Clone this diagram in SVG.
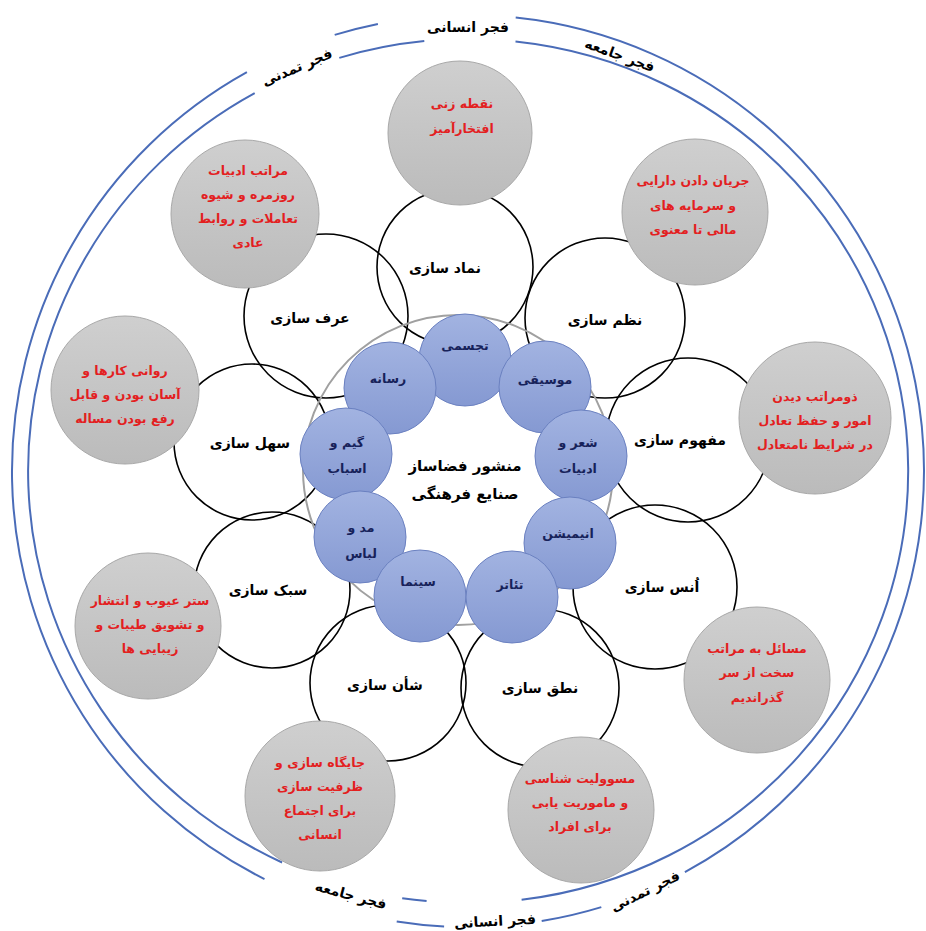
<svg xmlns="http://www.w3.org/2000/svg" width="926" height="931" viewBox="0 0 926 931">
<defs>
<linearGradient id="gGray" x1="0" y1="0" x2="0" y2="1">
<stop offset="0" stop-color="#cfcfcf"/>
<stop offset="1" stop-color="#bbbbbb"/>
</linearGradient>
<linearGradient id="gBlue" x1="0" y1="0" x2="0" y2="1">
<stop offset="0" stop-color="#a2b3e1"/>
<stop offset="1" stop-color="#8599d2"/>
</linearGradient>
<style>
text{font-family:"DejaVu Sans","Noto Sans",sans-serif;font-weight:bold;text-anchor:middle;dominant-baseline:central}
.ring{fill:none;stroke:#4a6cb8;stroke-width:2}
.wc{fill:none;stroke:#000;stroke-width:1.6}
.gc{fill:url(#gGray);stroke:#a8a8a8;stroke-width:1}
.bc{fill:url(#gBlue);stroke:#6a80c0;stroke-width:1}
.lab{font-size:14px;fill:#000}
.red{font-size:12.5px;fill:#e3201f}
.nav{font-size:12.5px;fill:#17225a}
.fajr{font-size:14px;fill:#000}
.ctr{font-size:15px;fill:#000}
</style>
</defs>
<rect width="926" height="931" fill="#fff"/>
<g id="connectors">
<path class="ring" d="M515.7,17.5 A456,456 0 0 1 684.9,872.1"/>
<path class="ring" d="M601.3,907.1 A456,456 0 0 1 541.7,921.0"/>
<path class="ring" d="M444.1,926.4 A456,456 0 0 1 396.7,921.4"/>
<path class="ring" d="M264.5,879.1 A456,456 0 0 1 246.9,72.2"/>
<path class="ring" d="M334.7,34.9 A456,456 0 0 1 377.9,24.0"/>
<path class="ring" d="M515.5,41.5 A440,432 0 0 1 521.6,899.8"/>
<path class="ring" d="M426.6,901.1 A440,432 0 0 1 402.2,898.2"/>
<path class="ring" d="M282.1,862.5 A440,432 0 0 1 254.7,93.2"/>
<path class="ring" d="M339.3,57.9 A440,432 0 0 1 424.3,41.1"/>
</g>
<g id="ring-labels">
<text class="fajr" x="468" y="27">فجر انسانی</text>
<text class="fajr" x="620" y="55" transform="rotate(20 620 55)">فجر جامعه</text>
<text class="fajr" x="297" y="67" transform="rotate(-23 297 67)">فجر تمدنی</text>
<text class="fajr" x="495" y="921" transform="rotate(-3 495 921)">فجر انسانی</text>
<text class="fajr" x="351" y="895" transform="rotate(15 351 895)">فجر جامعه</text>
<text class="fajr" x="645" y="891" transform="rotate(-26 645 891)">فجر تمدنی</text>
</g>
<g id="white-circles">
<circle class="wc" cx="455" cy="267" r="78"/>
<circle class="wc" cx="605" cy="318" r="80"/>
<circle class="wc" cx="688" cy="440" r="82"/>
<circle class="wc" cx="655" cy="587" r="82"/>
<circle class="wc" cx="540" cy="688" r="79"/>
<circle class="wc" cx="388" cy="683" r="78"/>
<circle class="wc" cx="272" cy="590" r="78"/>
<circle class="wc" cx="252" cy="442" r="78"/>
<circle class="wc" cx="326" cy="316" r="82"/>
</g>
<g id="core-ring">
<circle cx="458" cy="470" r="155" fill="none" stroke="#a0a0a0" stroke-width="2"/>
</g>
<g id="node-symbol"><text class="lab" x="445" y="268">نماد سازی</text></g>
<g id="node-order"><text class="lab" x="605" y="320">نظم سازی</text></g>
<g id="node-concept"><text class="lab" x="680" y="440">مفهوم سازی</text></g>
<g id="node-uns"><text class="lab" x="662" y="587">اُنس سازی</text></g>
<g id="node-speech"><text class="lab" x="540" y="688">نطق سازی</text></g>
<g id="node-status"><text class="lab" x="385" y="685">شأن سازی</text></g>
<g id="node-style"><text class="lab" x="268" y="590">سبک سازی</text></g>
<g id="node-ease"><text class="lab" x="250" y="443">سهل سازی</text></g>
<g id="node-custom"><text class="lab" x="310" y="318">عرف سازی</text></g>

<g id="g-top"><circle class="gc" cx="460" cy="133" r="72"/>
<text class="red" x="462" y="103">نقطه زنی</text><text class="red" x="462" y="128">افتخارآمیز</text></g>
<g id="g-topright"><circle class="gc" cx="695" cy="212" r="73"/>
<text class="red" x="693" y="180">جریان دادن دارایی</text><text class="red" x="693" y="205">و سرمایه های</text><text class="red" x="693" y="229">مالی تا معنوی</text></g>
<g id="g-right"><circle class="gc" cx="815" cy="418" r="76"/>
<text class="red" x="815" y="396">ذومراتب دیدن</text><text class="red" x="815" y="420">امور و حفظ تعادل</text><text class="red" x="815" y="444">در شرایط نامتعادل</text></g>
<g id="g-bottomright"><circle class="gc" cx="757" cy="680" r="73"/>
<text class="red" x="757" y="648">مسائل به مراتب</text><text class="red" x="757" y="672">سخت از سر</text><text class="red" x="757" y="697">گذراندیم</text></g>
<g id="g-bottom"><circle class="gc" cx="581" cy="810" r="73"/>
<text class="red" x="580" y="778">مسوولیت شناسی</text><text class="red" x="580" y="802">و ماموریت یابی</text><text class="red" x="580" y="826">برای افراد</text></g>
<g id="g-bottomleft"><circle class="gc" cx="320" cy="796" r="75"/>
<text class="red" x="320" y="762">جایگاه سازی و</text><text class="red" x="320" y="786">ظرفیت سازی</text><text class="red" x="320" y="810">برای اجتماع</text><text class="red" x="320" y="834">انسانی</text></g>
<g id="g-leftbottom"><circle class="gc" cx="148" cy="626" r="73"/>
<text class="red" x="150" y="600">ستر عیوب و انتشار</text><text class="red" x="150" y="624">و تشویق طیبات و</text><text class="red" x="150" y="648">زیبایی ها</text></g>
<g id="g-left"><circle class="gc" cx="125" cy="390" r="74"/>
<text class="red" x="125" y="370">روانی کارها و</text><text class="red" x="125" y="394">آسان بودن و قابل</text><text class="red" x="125" y="418">رفع بودن مساله</text></g>
<g id="g-topleft"><circle class="gc" cx="245" cy="214" r="74"/>
<text class="red" x="248" y="170">مراتب ادبیات</text><text class="red" x="248" y="194">روزمره و شیوه</text><text class="red" x="248" y="218">تعاملات و روابط</text><text class="red" x="248" y="242">عادی</text></g>

<g id="b-sculpt"><circle class="bc" cx="465" cy="360" r="46"/><text class="nav" x="465" y="345">تجسمی</text></g>
<g id="b-media"><circle class="bc" cx="390" cy="388" r="46"/><text class="nav" x="388" y="378">رسانه</text></g>
<g id="b-music"><circle class="bc" cx="545" cy="387" r="46"/><text class="nav" x="545" y="379">موسیقی</text></g>
<g id="b-game"><circle class="bc" cx="346" cy="454" r="46"/><text class="nav" x="347" y="442">گیم و</text><text class="nav" x="347" y="468">اسباب</text></g>
<g id="b-poetry"><circle class="bc" cx="581" cy="456" r="46"/><text class="nav" x="578" y="442">شعر و</text><text class="nav" x="578" y="468">ادبیات</text></g>
<g id="b-fashion"><circle class="bc" cx="360" cy="537" r="46"/><text class="nav" x="361" y="527">مد و</text><text class="nav" x="361" y="553">لباس</text></g>
<g id="b-anim"><circle class="bc" cx="570" cy="543" r="46"/><text class="nav" x="568" y="533">انیمیشن</text></g>
<g id="b-cinema"><circle class="bc" cx="420" cy="596" r="46"/><text class="nav" x="418" y="581">سینما</text></g>
<g id="b-theater"><circle class="bc" cx="512" cy="597" r="46"/><text class="nav" x="510" y="584">تئاتر</text></g>
<g id="center"><text class="ctr" x="465" y="466">منشور فضاساز</text><text class="ctr" x="465" y="494">صنایع فرهنگی</text></g>
</svg>
